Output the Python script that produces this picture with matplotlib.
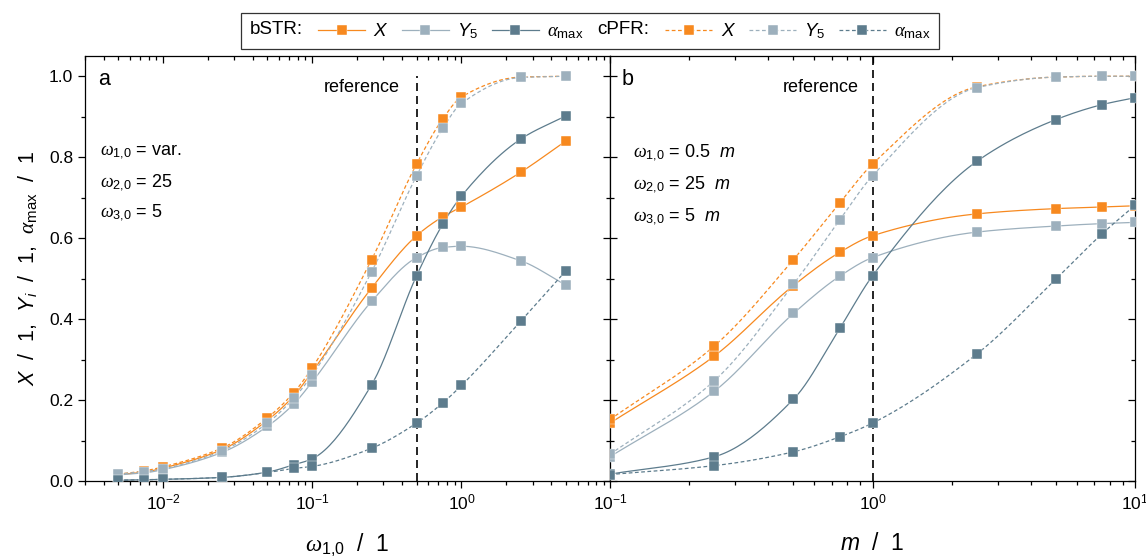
import numpy as np
import matplotlib
matplotlib.use("Agg")
import matplotlib.pyplot as plt
from matplotlib.lines import Line2D
from matplotlib.text import Text
from matplotlib.legend_handler import HandlerBase
from matplotlib.ticker import LogLocator, MultipleLocator, NullFormatter

plt.rcParams['font.family'] = ['Liberation Sans', 'DejaVu Sans']
plt.rcParams['mathtext.fontset'] = 'custom'
plt.rcParams['mathtext.rm'] = 'Liberation Sans'
plt.rcParams['mathtext.it'] = 'Liberation Serif:italic'
plt.rcParams['mathtext.sf'] = 'Liberation Sans:italic'

# panel a : omega_1,0 varied
w10 = [0.005, 0.0075, 0.01, 0.025, 0.05, 0.075, 0.1, 0.25, 0.5, 0.75, 1.0, 2.5, 5.0]
a_X_bstr = [0.016, 0.022, 0.032, 0.078, 0.150, 0.210, 0.270, 0.477, 0.606, 0.653, 0.677, 0.763, 0.840]
a_Y5_bstr = [0.015, 0.020, 0.028, 0.071, 0.135, 0.190, 0.245, 0.444, 0.552, 0.577, 0.580, 0.544, 0.484]
a_al_bstr = [0.002, 0.003, 0.004, 0.009, 0.022, 0.040, 0.055, 0.238, 0.507, 0.635, 0.704, 0.845, 0.902]
a_X_cpfr = [0.017, 0.025, 0.035, 0.082, 0.156, 0.218, 0.280, 0.547, 0.783, 0.895, 0.949, 0.998, 1.0]
a_Y5_cpfr = [0.017, 0.023, 0.030, 0.075, 0.143, 0.204, 0.262, 0.517, 0.754, 0.872, 0.933, 0.997, 1.0]
a_al_cpfr = [0.002, 0.003, 0.004, 0.009, 0.021, 0.031, 0.036, 0.081, 0.143, 0.193, 0.236, 0.395, 0.519]

# panel b : m varied
m = [0.1, 0.25, 0.5, 0.75, 1.0, 2.5, 5.0, 7.5, 10.0]
b_X_bstr = [0.143, 0.309, 0.483, 0.565, 0.606, 0.660, 0.673, 0.677, 0.680]
b_Y5_bstr = [0.060, 0.222, 0.414, 0.506, 0.552, 0.615, 0.630, 0.636, 0.639]
b_al_bstr = [0.017, 0.060, 0.202, 0.377, 0.507, 0.790, 0.893, 0.930, 0.947]
b_X_cpfr = [0.152, 0.334, 0.547, 0.687, 0.783, 0.974, 0.998, 1.0, 1.0]
b_Y5_cpfr = [0.066, 0.248, 0.486, 0.645, 0.754, 0.972, 0.998, 1.0, 1.0]
b_al_cpfr = [0.016, 0.038, 0.072, 0.109, 0.143, 0.314, 0.499, 0.611, 0.681]

c_X = '#F7891F'
c_Y = '#9DB0BD'
c_al = '#5D7C8D'


def smooth(x, y, n=25):
    # monotone cubic (pchip) through the points, in log10(x), just for drawing the line
    lx = np.log10(np.asarray(x, float))
    y = np.asarray(y, float)
    h = np.diff(lx)
    d = np.diff(y) / h
    s = np.zeros_like(y)
    s[0], s[-1] = d[0], d[-1]
    for k in range(1, len(y) - 1):
        if d[k - 1] * d[k] > 0:
            w1 = 2 * h[k] + h[k - 1]
            w2 = h[k] + 2 * h[k - 1]
            s[k] = (w1 + w2) / (w1 / d[k - 1] + w2 / d[k])
    xs, ys = [], []
    for k in range(len(y) - 1):
        t = np.linspace(0, 1, n)
        h00 = 2 * t**3 - 3 * t**2 + 1
        h10 = t**3 - 2 * t**2 + t
        h01 = -2 * t**3 + 3 * t**2
        h11 = t**3 - t**2
        xs.append(lx[k] + t * h[k])
        ys.append(h00 * y[k] + h10 * h[k] * s[k] + h01 * y[k + 1] + h11 * h[k] * s[k + 1])
    return 10 ** np.concatenate(xs), np.concatenate(ys)


def series(ax, x, y, col, dashed):
    xs, ys = smooth(x, y)
    if dashed:
        ax.plot(xs, ys, color=col, lw=0.9, dashes=(3, 2))
    else:
        ax.plot(xs, ys, color=col, lw=0.9)
    ax.plot(x, y, 's', color=col, ms=6.8, mec='white', mew=0.3, zorder=3)


fig = plt.figure(figsize=(11.46, 5.58), dpi=100)
ax1 = fig.add_axes([0.0742, 0.138, 0.4581, 0.7616])
ax2 = fig.add_axes([0.5323, 0.138, 0.4581, 0.7616])

for ax, x, data in [(ax1, w10, [a_X_bstr, a_Y5_bstr, a_al_bstr, a_X_cpfr, a_Y5_cpfr, a_al_cpfr]),
                    (ax2, m, [b_X_bstr, b_Y5_bstr, b_al_bstr, b_X_cpfr, b_Y5_cpfr, b_al_cpfr])]:
    for i, (y, col) in enumerate(zip(data, [c_X, c_Y, c_al] * 2)):
        series(ax, x, y, col, i >= 3)
    ax.set_xscale('log')
    ax.set_ylim(0, 1.05)
    ax.yaxis.set_major_locator(MultipleLocator(0.2))
    ax.yaxis.set_minor_locator(MultipleLocator(0.1))
    ax.xaxis.set_minor_locator(LogLocator(base=10, subs=np.arange(2, 10)))
    ax.xaxis.set_minor_formatter(NullFormatter())
    for sp in ax.spines.values():
        sp.set_linewidth(0.9)
    ax.tick_params(which='both', labelsize=12.5, width=0.9)
    ax.tick_params(which='major', length=5)
    ax.tick_params(which='minor', length=3)

ax1.set_xlim(0.003, 9.9)
ax2.set_xlim(0.1, 10)

# ticks: out on bottom/left, in on top/right
for ax in (ax1, ax2):
    ax.tick_params(axis='x', which='both', bottom=True, top=True, direction='out')
ax1.tick_params(axis='y', which='both', left=True, right=True, direction='out')
ax2.tick_params(axis='y', which='both', left=True, right=True, direction='in', labelleft=False)
for ax in (ax1, ax2):
    for t in ax.xaxis.get_major_ticks() + ax.xaxis.get_minor_ticks():
        t.tick2line.set_marker(3)
for t in ax1.yaxis.get_major_ticks() + ax1.yaxis.get_minor_ticks():
    t.tick2line.set_marker(0)

# reference lines
ax1.plot([0.5, 0.5], [0, 1.0], color='black', lw=1.2, dashes=(4.8, 3))
ax2.axvline(1.0, color='black', lw=1.2, dashes=(4.8, 3))
ax1.annotate('reference', xy=(0.5, 0.925), xycoords=('data', 'axes fraction'),
             xytext=(-12, 0), textcoords='offset points', ha='right', va='center', fontsize=13)
ax2.annotate('reference', xy=(1.0, 0.925), xycoords=('data', 'axes fraction'),
             xytext=(-10, 0), textcoords='offset points', ha='right', va='center', fontsize=13)

ax1.text(0.025, 0.944, 'a', transform=ax1.transAxes, fontsize=15.5, va='center')
ax2.text(0.022, 0.944, 'b', transform=ax2.transAxes, fontsize=15.5, va='center')

for i, s in enumerate([r'$\omega_{1{,}0}$ = var.', r'$\omega_{2{,}0}$ = 25', r'$\omega_{3{,}0}$ = 5']):
    ax1.text(0.028, 0.774 - 0.071 * i, s, transform=ax1.transAxes, fontsize=13, va='center')
for i, s in enumerate([r'$\omega_{1{,}0}$ = 0.5  $\mathsf{m}$', r'$\omega_{2{,}0}$ = 25  $\mathsf{m}$',
                       r'$\omega_{3{,}0}$ = 5  $\mathsf{m}$']):
    ax2.text(0.044, 0.772 - 0.075 * i, s, transform=ax2.transAxes, fontsize=13, va='center')

ax1.set_xlabel(r'$\omega_{1{,}0}$  /  1', fontsize=16.5, labelpad=14)
ax2.set_xlabel(r'$\mathsf{m}$  /  1', fontsize=16.5, labelpad=14)
ax1.set_ylabel(r'$\mathsf{X}$  /  1,  $\mathsf{Y}_\mathsf{i}$  /  1,  $\alpha_\mathrm{max}$  /  1',
               fontsize=15.5, labelpad=7)


# legend with the "bSTR:" / "cPFR:" words drawn in the handle slot
class TextHandler(HandlerBase):
    def create_artists(self, legend, orig_handle, xdescent, ydescent, width, height, fontsize, trans):
        t = Text(-xdescent, height / 2 - ydescent, orig_handle.get_label(), fontsize=fontsize,
                 va='center', ha='left', transform=trans)
        return [t]


class Word(Text):
    pass


h_b = Word(text='bSTR:')
h_b.set_label('bSTR:')
h_c = Word(text='cPFR:')
h_c.set_label('cPFR:')
mk = dict(marker='s', ms=6.8, mec='white', mew=0.3, lw=0.9)
handles = [h_b,
           Line2D([], [], color=c_X, **mk),
           Line2D([], [], color=c_Y, **mk),
           Line2D([], [], color=c_al, **mk),
           h_c,
           Line2D([], [], color=c_X, dashes=(3, 2), **mk),
           Line2D([], [], color=c_Y, dashes=(3, 2), **mk),
           Line2D([], [], color=c_al, dashes=(3, 2), **mk)]
labels = ['', r'$\mathsf{X}$', r'$\mathsf{Y}_5$', r'$\alpha_\mathrm{max}$',
          '', r'$\mathsf{X}$', r'$\mathsf{Y}_5$', r'$\alpha_\mathrm{max}$']
leg = fig.legend(handles, labels, loc='upper center', bbox_to_anchor=(0.515, 0.984), ncol=8,
                 fontsize=13.5, handlelength=2.5, handletextpad=0.45, columnspacing=0.7,
                 frameon=True, fancybox=False, edgecolor='black', borderpad=0.45,
                 borderaxespad=0.2, handler_map={Word: TextHandler()})
leg.get_frame().set_linewidth(0.9)

fig.savefig('out.png', dpi=100)
